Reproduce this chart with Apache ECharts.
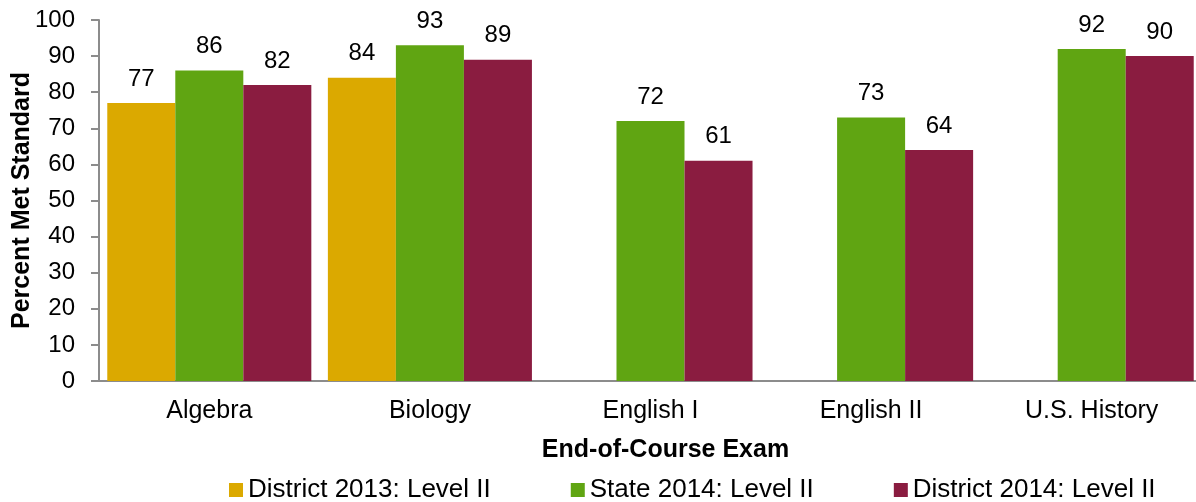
<!DOCTYPE html>
<html>
<head>
<meta charset="utf-8">
<script src="https://cdn.jsdelivr.net/npm/echarts@6/dist/echarts.min.js"></script>
<style>
    html, body { margin: 0; padding: 0; background: #fff; }
    #chart { width: 1196px; height: 502px; }
</style>
</head>
<body>
<div id="chart"></div>
<script>
const categories = ['Algebra', 'Biology', 'English I', 'English II', 'U.S. History']
const district2013 = [77, 84, null, null, null]
const state2014 = [86, 93, 72, 73, 92]
const district2014 = [82, 89, 61, 64, 90]
const seriesNames = ['District 2013: Level II', 'State 2014: Level II', 'District 2014: Level II']

const font = '"Liberation Sans", Arial, sans-serif'
const axisGray = '#8c8c8c'

const chart = echarts.init(document.getElementById('chart'))

const makeBar = (name, data, color) => ({
    name: name,
    type: 'bar',
    data: data,
    barGap: '0%',
    barCategoryGap: '7.5%',
    itemStyle: { color: color },
    label: {
        show: true,
        position: 'top',
        distance: 12,
        color: '#000',
        fontFamily: font,
        fontSize: 24
    }
})

const option = {
    backgroundColor: '#fff',
    animation: false,
    textStyle: { fontFamily: font },
    grid: {
        left: 99,
        top: 20,
        width: 1103,
        height: 361,
        outerBoundsMode: 'none'
    },
    legend: {
        left: 224,
        top: 472,
        icon: 'rect',
        itemWidth: 14,
        itemHeight: 14,
        itemGap: 80,
        textStyle: { fontFamily: font, fontSize: 26, color: '#000' },
        data: seriesNames
    },
    xAxis: {
        type: 'category',
        data: categories,
        name: 'End-of-Course Exam',
        nameLocation: 'middle',
        nameGap: 57,
        nameMoveOverlap: false,
        nameTextStyle: {
            fontFamily: font,
            fontSize: 25,
            fontWeight: 'bold',
            color: '#000',
            padding: [0, 0, 0, 30]
        },
        axisLine: { lineStyle: { color: axisGray, width: 2 } },
        axisTick: { alignWithLabel: false, length: 6, lineStyle: { color: axisGray, width: 2 } },
        axisLabel: { color: '#000', fontFamily: font, fontSize: 25, margin: 18 }
    },
    yAxis: {
        type: 'value',
        min: 0,
        max: 100,
        interval: 10,
        name: 'Percent Met Standard',
        nameLocation: 'middle',
        nameGap: 64,
        nameMoveOverlap: false,
        nameTextStyle: {
            fontFamily: font,
            fontSize: 25,
            fontWeight: 'bold',
            color: '#000'
        },
        axisLine: { show: true, lineStyle: { color: axisGray, width: 2 } },
        axisTick: { show: true, length: 8, lineStyle: { color: axisGray, width: 2 } },
        axisLabel: { color: '#000', fontFamily: font, fontSize: 24, margin: 24 },
        splitLine: { show: false }
    },
    series: [
        makeBar(seriesNames[0], district2013, '#dba900'),
        makeBar(seriesNames[1], state2014, '#60a512'),
        makeBar(seriesNames[2], district2014, '#8a1c40')
    ]
}

chart.setOption(option)
</script>
</body>
</html>
